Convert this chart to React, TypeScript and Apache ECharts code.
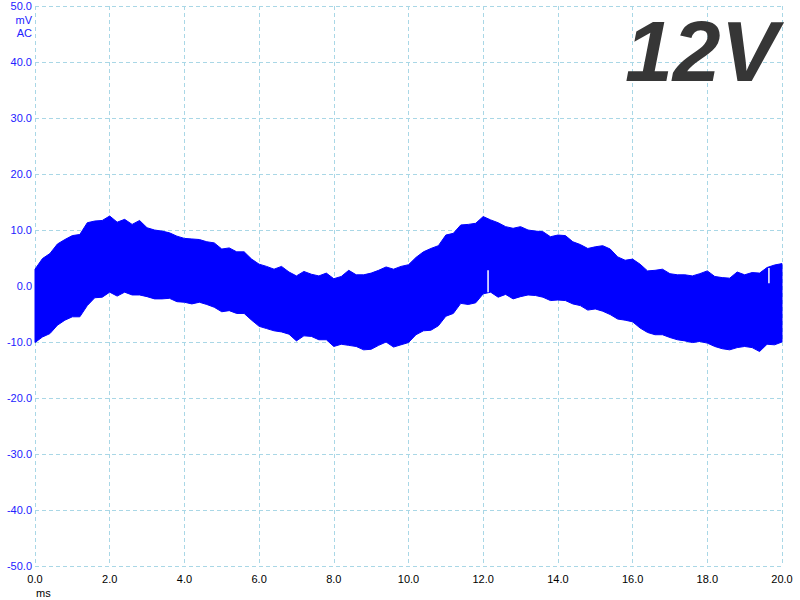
import React, { useEffect, useRef } from "react";
import * as echarts from "echarts";

// sample times (ms)
const TIME = [
  0.0, 0.2, 0.4, 0.6, 0.8, 1.0, 1.2, 1.4, 1.6, 1.8,
  2.0, 2.2, 2.4, 2.6, 2.8, 3.0, 3.2, 3.4, 3.6, 3.8,
  4.0, 4.2, 4.4, 4.6, 4.8, 5.0, 5.2, 5.4, 5.6, 5.8,
  6.0, 6.2, 6.4, 6.6, 6.8, 7.0, 7.2, 7.4, 7.6, 7.8,
  8.0, 8.2, 8.4, 8.6, 8.8, 9.0, 9.2, 9.4, 9.6, 9.8,
  10.0, 10.2, 10.4, 10.6, 10.8, 11.0, 11.2, 11.4, 11.6, 11.8,
  12.0, 12.2, 12.4, 12.6, 12.8, 13.0, 13.2, 13.4, 13.6, 13.8,
  14.0, 14.2, 14.4, 14.6, 14.8, 15.0, 15.2, 15.4, 15.6, 15.8,
  16.0, 16.2, 16.4, 16.6, 16.8, 17.0, 17.2, 17.4, 17.6, 17.8,
  18.0, 18.2, 18.4, 18.6, 18.8, 19.0, 19.2, 19.4, 19.6, 19.8,
  20.0,
];

// upper envelope of the signal (mV)
const UPPER = [
  3.0, 4.9, 5.8, 7.5, 8.3, 9.0, 9.2, 11.3, 11.6, 11.7,
  12.5, 11.4, 11.9, 11.0, 11.7, 10.4, 10.0, 9.8, 9.5, 8.9,
  8.5, 8.4, 8.3, 7.9, 7.7, 6.6, 6.8, 6.1, 6.1, 4.8,
  3.9, 3.5, 3.0, 3.5, 2.5, 1.8, 2.6, 2.1, 1.8, 2.3,
  1.3, 1.7, 2.8, 2.0, 2.0, 2.3, 2.8, 3.4, 3.0, 3.5,
  3.8, 5.1, 6.1, 6.7, 7.2, 9.1, 9.4, 10.9, 11.0, 11.2,
  12.4, 11.8, 11.3, 10.6, 10.3, 10.6, 10.0, 9.8, 9.7, 8.8,
  9.1, 9.0, 7.9, 7.4, 6.7, 7.0, 7.2, 6.6, 5.2, 4.6,
  4.8, 3.9, 2.7, 2.8, 3.0, 2.2, 2.0, 2.0, 1.8, 2.2,
  2.7, 1.7, 1.5, 1.4, 2.5, 2.0, 2.4, 2.3, 3.3, 3.75,
  4.0,
];

// lower envelope of the signal (mV)
const LOWER = [
  -10.1, -9.1, -8.5, -7.0, -6.1, -5.5, -5.5, -3.5, -2.1, -2.0,
  -1.1, -1.8, -1.1, -1.6, -1.6, -1.9, -2.3, -2.3, -2.2, -2.8,
  -2.9, -3.2, -2.9, -3.3, -3.8, -4.6, -4.4, -4.9, -4.9, -6.1,
  -7.2, -7.6, -8.0, -8.2, -8.6, -9.8, -8.9, -9.0, -9.6, -9.6,
  -10.8, -10.4, -10.6, -10.8, -11.4, -11.3, -10.6, -10.0, -10.9, -10.5,
  -10.1, -8.7, -8.0, -7.9, -7.1, -5.4, -4.9, -3.1, -3.3, -3.0,
  -1.4, -1.1, -2.0, -1.5, -2.3, -1.9, -1.6, -1.7, -2.0, -2.6,
  -2.5, -2.6, -3.2, -3.5, -4.3, -4.1, -4.5, -5.1, -5.9, -6.1,
  -6.4, -7.5, -8.3, -8.7, -8.7, -9.2, -9.6, -9.8, -10.1, -9.9,
  -10.2, -10.8, -11.2, -11.4, -11.0, -10.8, -11.0, -11.7, -10.4, -10.5,
  -10.0,
];

// thin white glitches inside the band
const SPIKE_TIME = [12.13, 19.65];
const SPIKE_TOP = [2.8, 3.2];
const SPIKE_BOTTOM = [-1.1, 0.5];

const X_MIN = 0;
const X_MAX = 20;
const X_STEP = 2;
const Y_MIN = -50;
const Y_MAX = 50;
const Y_STEP = 10;

const FONT = '"Liberation Sans", Arial, sans-serif';
const GRID_COLOR = "#a9d7e6";
const LABEL_BLUE = "#2222ff";

export default function App() {
  const ref = useRef<HTMLDivElement>(null);

  useEffect(() => {
    if (!ref.current) return;
    const chart = echarts.init(ref.current, null, { renderer: "svg" });

    const textStyle = (text: string, fill: string, align: string, font: string) => ({
      text,
      font,
      fill,
      align,
      verticalAlign: "middle",
      textAlign: align,
      textVerticalAlign: "middle",
    });

    const option: any = {
      animation: false,
      backgroundColor: "#ffffff",
      grid: { left: 35, right: 18, top: 6, bottom: 34 },
      xAxis: {
        type: "value",
        min: X_MIN,
        max: X_MAX,
        interval: X_STEP,
        axisLine: { show: false },
        axisTick: { show: false },
        splitLine: {
          show: true,
          lineStyle: { color: GRID_COLOR, type: [4, 3], width: 1 },
        },
        axisLabel: {
          color: "#000000",
          fontSize: 11,
          fontFamily: FONT,
          margin: 7,
          formatter: (v: number) => v.toFixed(1),
        },
      },
      yAxis: {
        type: "value",
        min: Y_MIN,
        max: Y_MAX,
        interval: Y_STEP,
        axisLine: { show: false },
        axisTick: { show: false },
        splitLine: {
          show: true,
          lineStyle: { color: GRID_COLOR, type: [4, 3], width: 1 },
        },
        axisLabel: {
          color: LABEL_BLUE,
          fontSize: 11,
          fontFamily: FONT,
          margin: 3,
          formatter: (v: number) => v.toFixed(1),
        },
      },
      series: [
        {
          type: "custom",
          name: "signal",
          data: [[0, 0]],
          silent: true,
          renderItem: (_params: any, api: any) => {
            const pts: number[][] = [];
            for (let i = 0; i < TIME.length; i++) {
              pts.push(api.coord([TIME[i], UPPER[i]]));
            }
            for (let i = TIME.length - 1; i >= 0; i--) {
              pts.push(api.coord([TIME[i], LOWER[i]]));
            }
            return {
              type: "polygon",
              shape: { points: pts },
              style: { fill: "#0000ff", stroke: "#0000ff", lineWidth: 1 },
            };
          },
          z: 3,
        },
        {
          type: "custom",
          name: "glitch",
          data: SPIKE_TIME.map((t, i) => [t, SPIKE_TOP[i], SPIKE_BOTTOM[i]]),
          encode: { x: 0, y: [1, 2] },
          silent: true,
          renderItem: (_params: any, api: any) => {
            const p1 = api.coord([api.value(0), api.value(1)]);
            const p2 = api.coord([api.value(0), api.value(2)]);
            return {
              type: "line",
              shape: { x1: p1[0], y1: p1[1], x2: p2[0], y2: p2[1] },
              style: { stroke: "#ffffff", lineWidth: 1.5 },
            };
          },
          z: 4,
        },
      ],
      graphic: [
        { type: "text", x: 32, y: 20, style: textStyle("mV", LABEL_BLUE, "right", `11px ${FONT}`) },
        { type: "text", x: 32, y: 32.5, style: textStyle("AC", LABEL_BLUE, "right", `11px ${FONT}`) },
        { type: "text", x: 36, y: 593, style: textStyle("ms", "#000000", "left", `11px ${FONT}`) },
        {
          type: "text",
          x: 778,
          y: 51,
          z: 10,
          style: textStyle("12V", "#363636", "right", `italic bold 86px ${FONT}`),
        },
      ],
    };

    chart.setOption(option);
    return () => chart.dispose();
  }, []);

  return (
    <div
      ref={ref}
      style={{ width: 800, height: 600, position: "absolute", left: 0, top: 0 }}
    />
  );
}
